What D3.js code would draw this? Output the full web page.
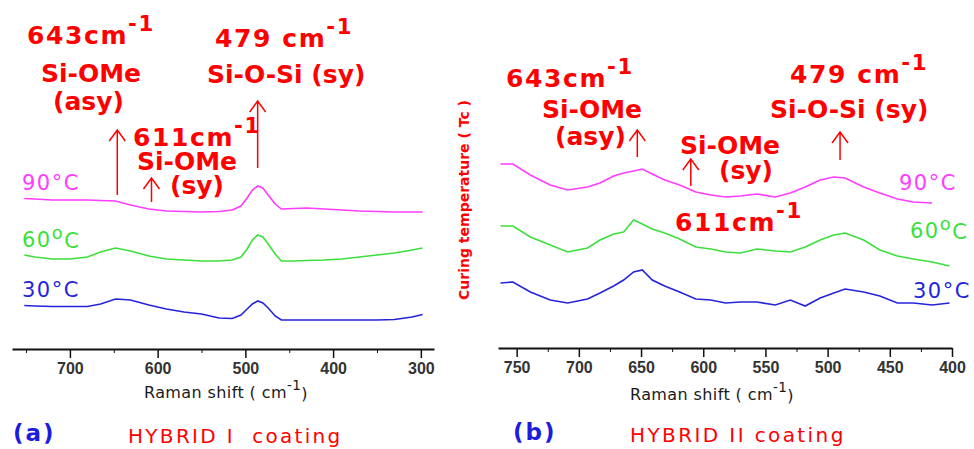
<!DOCTYPE html>
<html>
<head>
<meta charset="utf-8">
<script src="https://cdn.jsdelivr.net/npm/d3@7"></script>
<style>
	body { margin: 0; background: #fff; }
	svg { font-family: "DejaVu Sans", Verdana, sans-serif; }
	.lbl { fill: #f00; font-weight: bold; font-size: 25px; }
	.num { letter-spacing: 1.6px; }
	.temp { font-size: 21px; letter-spacing: 1.5px; }
	.axis text { font-size: 16px; font-weight: bold; fill: #333; }
	.axis path, .axis line { stroke: #111; }
	.title { font-size: 16px; fill: #1a1a1a; letter-spacing: 0.4px; }
</style>
</head>
<body>
<svg></svg>
<script>
// panel (a) HYBRID I - wavenumbers (cm-1) and intensities (a.u.)
var wavesA = [752, 740, 720, 700, 680, 665, 648, 631, 610, 590, 570, 550, 530, 515, 505, 498, 492, 486, 480, 474, 466, 459, 445, 430, 410, 390, 370, 350, 330, 310, 298];
var hyb1_90 = [150.5, 150, 149, 149, 149, 148.5, 148, 144, 140, 138, 137.5, 137, 137.5, 139, 143, 151, 159, 163, 161, 154, 145, 140, 140.5, 141, 140, 139, 138, 137.5, 137, 137, 137];
var hyb1_60 = [94, 92, 90, 90, 92, 97, 101, 98, 93, 90, 89, 88, 88, 89, 92, 100, 109, 114, 112, 105, 95, 88, 88, 88.5, 89, 90, 92, 94, 96, 99, 101];
var hyb1_30 = [43.5, 43, 42.5, 42.5, 42.5, 45, 50, 49, 44, 40, 37, 35, 31, 30.5, 34, 40, 45, 48, 46, 41, 33, 29, 29, 29, 29, 29, 29, 29, 29.5, 32, 34.5];

// panel (b) HYBRID II
var wavesB = [763, 753, 739, 723, 709, 693, 683, 672, 664, 656, 649, 641, 631, 619, 606, 594, 582, 570, 557, 542, 530, 518, 506, 495, 486, 471, 458, 444, 431, 416, 402];
var hyb2_90 = [185, 185, 174, 164, 159, 162, 166, 173, 176, 178, 180, 175, 169, 164, 157, 154, 152, 153, 155, 152, 156, 162, 169, 172, 171, 162, 156, 150, 147, 146, null];
var hyb2_60 = [123, 123, 112, 104, 97, 101, 109, 115, 117, 129, 125, 120, 116, 110, 102, 100, 97, 96, 100, 98, 97, 102, 109, 114, 116, 109, 99, 93, 90, 87, 83];
var hyb2_30 = [66, 67, 57, 49, 46, 50, 56, 63, 69, 77, 79, 69, 63, 57, 50, 49, 46, 47, 47, 44, 49, 43, 51, 56, 60, 57, 53, 46, 46, 44, 46];

var ticksA = [700, 600, 500, 400, 300];
var minorA = [750, 650, 550, 450, 350];
var ticksB = [750, 700, 650, 600, 550, 500, 450, 400];
var minorB = [725, 675, 625, 575, 525, 475, 425];

var temps = ["90", "60", "30"];
var colors = ["#ff3cff", "#3ce03c", "#2424dc"];

var svg = d3.select("svg")
	.attr("width", 974)
	.attr("height", 449);

var xA = d3.scaleLinear().domain([766, 285]).range([12, 434]);
var xB = d3.scaleLinear().domain([765, 400]).range([498, 952]);
var y = d3.scaleLinear().domain([0, 200]).range([349, 149]);

function drawCurves(x, waves, series) {
	var line = d3.line()
		.defined(d => d != null)
		.x((d, i) => x(waves[i]))
		.y(d => y(d));
	series.forEach((s, i) => {
		svg.append("path")
			.datum(s)
			.attr("fill", "none")
			.attr("stroke", colors[i])
			.attr("stroke-width", 1.6)
			.attr("d", line);
	});
}

function drawAxis(x, majors, minors, yPos) {
	svg.append("g")
		.attr("class", "axis")
		.attr("transform", "translate(0," + yPos + ")")
		.call(d3.axisBottom(x).tickValues(minors).tickSize(4).tickSizeOuter(0).tickFormat(""))
		.call(g => g.select(".domain").attr("stroke-width", 2.2));
	svg.append("g")
		.attr("class", "axis")
		.attr("transform", "translate(0," + yPos + ")")
		.call(d3.axisBottom(x).tickValues(majors).tickSize(9).tickPadding(5).tickFormat(d3.format("d")))
		.call(g => g.select(".domain").remove())
		.call(g => g.selectAll(".tick line").attr("stroke-width", 1.5));
}

drawCurves(xA, wavesA, [hyb1_90, hyb1_60, hyb1_30]);
drawCurves(xB, wavesB, [hyb2_90, hyb2_60, hyb2_30]);
drawAxis(xA, ticksA, minorA, 349);
drawAxis(xB, ticksB, minorB, 348);

// text with optional superscript
function label(x, yy, main, sup, cls) {
	var t = svg.append("text")
		.attr("x", x)
		.attr("y", yy)
		.attr("class", cls || "lbl")
		.attr("xml:space", "preserve");
	t.append("tspan").text(main);
	if (sup) t.append("tspan").attr("dy", "-0.6em").attr("font-size", "0.85em").text(sup);
	return t;
}

function arrow(x, y1, y2) {
	svg.append("path")
		.attr("d", "M" + x + "," + y2 + "V" + y1 + "M" + (x - 8) + "," + (y1 + 11) + "L" + x + "," + y1 + "L" + (x + 8) + "," + (y1 + 11))
		.attr("fill", "none")
		.attr("stroke", "#f00")
		.attr("stroke-width", 1.5);
}

// temperature labels
function temp(x, yy, i) {
	var t = svg.append("text")
		.attr("x", x)
		.attr("y", yy)
		.attr("class", "temp")
		.attr("fill", colors[i]);
	t.append("tspan").text(temps[i]);
	if (i == 1) {
		t.append("tspan").attr("dy", "-0.45em").attr("font-size", "0.85em").text("o");
		t.append("tspan").attr("dy", "0.45em").text("C");
	} else {
		t.append("tspan").text("°C");
	}
}
temp(22, 190, 0); temp(22, 247, 1); temp(22, 297, 2);
temp(899, 190, 0); temp(910, 238, 1); temp(913, 298, 2);

// panel (a) annotations
label(27, 44, "643cm", "-1", "lbl num");
label(41, 82, "Si-OMe");
label(53, 110, "(asy)");
label(133, 146, "611cm", "-1", "lbl num");
label(137, 170, "Si-OMe");
label(170, 194, "(sy)");
label(215, 47, "479 cm", "-1", "lbl num");
label(207, 83, "Si-O-Si (sy)");
arrow(xA(646), 130, 195);
arrow(xA(607), 178, 202);
arrow(xA(486), 101, 168);

// panel (b) annotations
label(506, 87, "643cm", "-1", "lbl num");
label(542, 118, "Si-OMe");
label(555, 145, "(asy)");
label(680, 154, "Si-OMe");
label(719, 179, "(sy)");
label(675, 231, "611cm", "-1", "lbl num");
label(790, 83, "479 cm", "-1", "lbl num");
label(770, 118, "Si-O-Si (sy)");
arrow(xB(653), 130, 157);
arrow(xB(610), 159, 186);
arrow(xB(490), 132, 160);

// axis titles
label(144, 398, "Raman shift ( cm", "-1", "title").append("tspan").attr("dy", "0.6em").text(")");
label(630, 400, "Raman shift ( cm", "-1", "title").append("tspan").attr("dy", "0.6em").text(")");

svg.append("text")
	.attr("transform", "translate(469,200) rotate(-90)")
	.attr("text-anchor", "middle")
	.attr("fill", "#f00")
	.attr("font-size", 14)
	.attr("font-weight", "bold")
	.text("Curing temperature ( Tc )");

// panel captions
svg.append("text").attr("x", 13).attr("y", 441).attr("fill", "#1c1cdc").attr("font-size", 23).attr("font-weight", "bold").attr("letter-spacing", 2).text("(a)");
svg.append("text").attr("x", 128).attr("y", 443).attr("fill", "#f00").attr("font-size", 20).attr("letter-spacing", 2.3).attr("xml:space", "preserve").text("HYBRID I  coating");
svg.append("text").attr("x", 513).attr("y", 440).attr("fill", "#1c1cdc").attr("font-size", 23).attr("font-weight", "bold").attr("letter-spacing", 2).text("(b)");
svg.append("text").attr("x", 630).attr("y", 442).attr("fill", "#f00").attr("font-size", 20).attr("letter-spacing", 2.4).text("HYBRID II coating");
</script>
</body>
</html>
